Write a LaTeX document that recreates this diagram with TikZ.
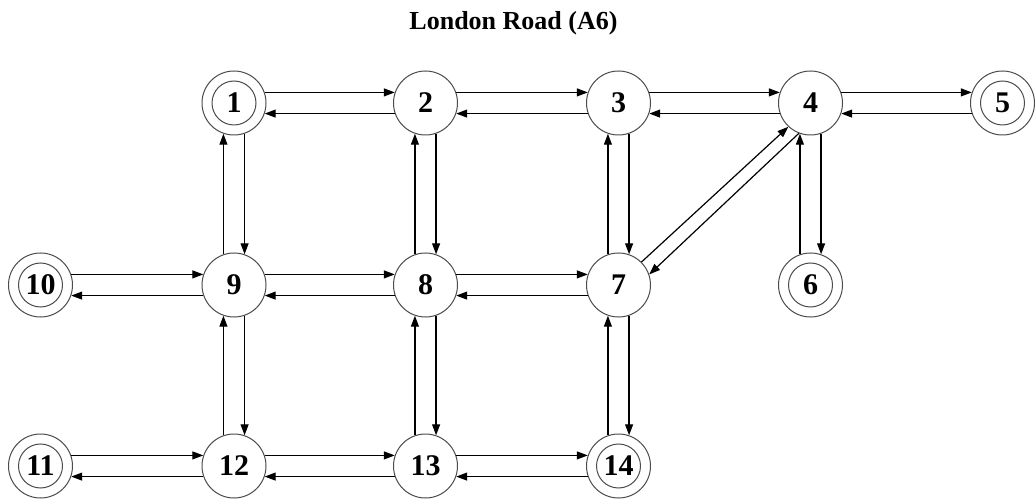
\documentclass[tikz,border=0pt]{standalone}
\usepackage{fontspec}
\setmainfont{Liberation Serif}
\usetikzlibrary{arrows.meta}
\begin{document}
\begin{tikzpicture}[x=1pt,y=-1pt,
  st/.style={circle,draw=black!70,line width=1pt,minimum size=64pt,inner sep=0pt,
    font=\fontsize{30}{32}\selectfont\bfseries},
  fin/.style={st,path picture={\draw[black!70,line width=1pt]
    (path picture bounding box.center) circle[radius=22pt];}},
  arr/.style={line width=1.2pt,-{Triangle[length=11pt,width=8pt]}}]
\fill[white] (0,0) rectangle (1035,502);
\useasboundingbox (0,0) rectangle (1035,502);
\node[anchor=base,font=\fontsize{26}{28}\selectfont\bfseries] (title) at (513.5,30) {London Road (A6)};
% row 1
\node[fin] (n1) at (234,103) {1};
\node[st]  (n2) at (425.5,103) {2};
\node[st]  (n3) at (618.5,103) {3};
\node[st]  (n4) at (810.5,103) {4};
\node[fin] (n5) at (1002.5,103) {5};
% row 2
\node[fin] (n10) at (40.5,285) {10};
\node[st]  (n9) at (234,285) {9};
\node[st]  (n8) at (425.5,285) {8};
\node[st]  (n7) at (618.5,285) {7};
\node[fin] (n6) at (810.5,285) {6};
% row 3
\node[fin] (n11) at (40.5,466) {11};
\node[st]  (n12) at (234,466) {12};
\node[st]  (n13) at (425.5,466) {13};
\node[fin] (n14) at (618.5,466) {14};
% horizontal two-way links
\foreach \a/\b in {n1/n2,n2/n3,n3/n4,n4/n5,n10/n9,n9/n8,n8/n7,n11/n12,n12/n13,n13/n14}{
  \draw[arr] (\a.19) -- (\b.161);
  \draw[arr] (\b.199) -- (\a.341);
}
% vertical two-way links
\foreach \t/\b in {n1/n9,n9/n12,n2/n8,n8/n13,n3/n7,n7/n14,n4/n6}{
  \draw[arr] (\b.109) -- (\t.251);
  \draw[arr] (\t.289) -- (\b.71);
}
% diagonal
\draw[arr] (n7.45) -- (n4.227);
\draw[arr] (n4.249) -- (n7.19);
\end{tikzpicture}
\end{document}
